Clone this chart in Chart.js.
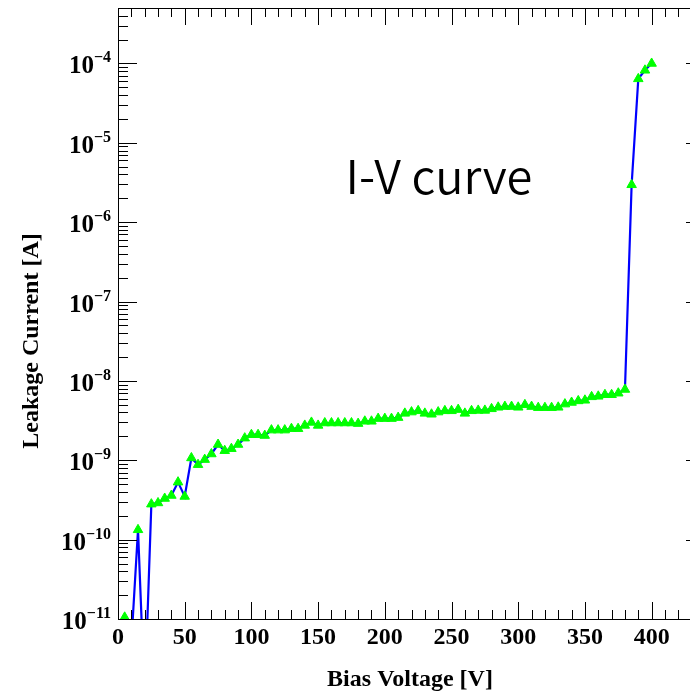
<!DOCTYPE html>
<html lang="en">
<head>
  <meta charset="UTF-8" />
  <title>I-V curve</title>
  <script src="https://cdn.jsdelivr.net/npm/chart.js"></script>
  <style>
    html, body { margin: 0; padding: 0; background: #fff; overflow: hidden; }
    #wrap { width: 690px; height: 692px; overflow: hidden; }
    #ivChart { display: block; }
  </style>
</head>
<body>
<div id="wrap"><canvas id="ivChart" width="705" height="692"></canvas></div>
<script>
  // bias voltage [V]
  const voltages = [
    5, 10, 15, 20, 25, 30, 35, 40, 45, 50,
    55, 60, 65, 70, 75, 80, 85, 90, 95, 100,
    105, 110, 115, 120, 125, 130, 135, 140, 145, 150,
    155, 160, 165, 170, 175, 180, 185, 190, 195, 200,
    205, 210, 215, 220, 225, 230, 235, 240, 245, 250,
    255, 260, 265, 270, 275, 280, 285, 290, 295, 300,
    305, 310, 315, 320, 325, 330, 335, 340, 345, 350,
    355, 360, 365, 370, 375, 380, 385, 390, 395, 400
  ];
  // leakage current [A]
  const currents = [
    1.05e-11, 5e-12, 1.33e-10, 1e-12, 2.8e-10, 2.9e-10, 3.3e-10, 3.6e-10, 5.3e-10, 3.5e-10,
    1.07e-9, 8.8e-10, 1.02e-9, 1.2e-9, 1.58e-9, 1.32e-9, 1.4e-9, 1.58e-9, 1.9e-9, 2.1e-9,
    2.1e-9, 2.05e-9, 2.4e-9, 2.4e-9, 2.4e-9, 2.5e-9, 2.5e-9, 2.75e-9, 3.0e-9, 2.75e-9,
    2.95e-9, 2.95e-9, 2.95e-9, 2.95e-9, 2.95e-9, 2.9e-9, 3.1e-9, 3.1e-9, 3.35e-9, 3.35e-9,
    3.35e-9, 3.45e-9, 3.9e-9, 4.05e-9, 4.2e-9, 3.9e-9, 3.8e-9, 4.05e-9, 4.2e-9, 4.2e-9,
    4.35e-9, 3.9e-9, 4.2e-9, 4.25e-9, 4.25e-9, 4.45e-9, 4.65e-9, 4.75e-9, 4.75e-9, 4.65e-9,
    5.0e-9, 4.75e-9, 4.6e-9, 4.6e-9, 4.6e-9, 4.65e-9, 5.1e-9, 5.35e-9, 5.6e-9, 5.7e-9,
    6.3e-9, 6.4e-9, 6.7e-9, 6.7e-9, 7.0e-9, 7.8e-9, 2.96e-6, 6.4e-5, 8.2e-5, 1.0e-4
  ];

  const xTickLabels = [0, 50, 100, 150, 200, 250, 300, 350, 400];
  const yTickExponents = [-11, -10, -9, -8, -7, -6, -5, -4];

  const X_MIN = 0, X_MAX = 440;
  const Y_MIN = 1e-11, Y_MAX = 5e-4;

  const points = voltages.map((v, i) => ({ x: v, y: currents[i] }));

  const serif = "'Liberation Serif', 'Times New Roman', serif";

  // ROOT-like frame: box, inward ticks on all four sides, labels and titles
  const rootFrame = {
    id: "rootFrame",
    afterDraw(chart) {
      const { ctx, chartArea: a, scales: { x, y } } = chart;
      ctx.save();
      ctx.strokeStyle = "#000";
      ctx.lineWidth = 1;
      ctx.strokeRect(a.left + 0.5, a.top + 0.5, a.right - a.left - 1, a.bottom - a.top);

      ctx.beginPath();
      for (let v = X_MIN; v <= X_MAX; v += 10) {
        const px = Math.round(x.getPixelForValue(v)) + 0.5;
        const len = v % 50 === 0 ? 17 : 9;
        ctx.moveTo(px, a.bottom);
        ctx.lineTo(px, a.bottom - len);
        ctx.moveTo(px, a.top);
        ctx.lineTo(px, a.top + len);
      }
      yTickExponents.forEach(e => {
        for (let m = 1; m <= 9; m++) {
          const val = m * Math.pow(10, e);
          if (val > Y_MAX) break;
          const py = Math.round(y.getPixelForValue(val)) + 0.5;
          const len = m === 1 ? 19 : 10;
          ctx.moveTo(a.left, py);
          ctx.lineTo(a.left + len, py);
          ctx.moveTo(a.right, py);
          ctx.lineTo(a.right - len, py);
        }
      });
      ctx.stroke();

      ctx.fillStyle = "#000";
      // x tick labels
      ctx.font = "bold 24px " + serif;
      ctx.textAlign = "center";
      ctx.textBaseline = "alphabetic";
      xTickLabels.forEach(v => {
        ctx.fillText(String(v), x.getPixelForValue(v), 644);
      });

      // y tick labels 10^n
      yTickExponents.forEach(e => {
        const py = y.getPixelForValue(Math.pow(10, e));
        const sup = "\u2212" + String(-e);
        ctx.font = "bold 16px " + serif;
        const supW = ctx.measureText(sup).width;
        ctx.textAlign = "left";
        const right = 111;
        ctx.fillText(sup, right - supW, py - 1);
        ctx.font = "bold 25px " + serif;
        ctx.textAlign = "right";
        ctx.fillText("10", right - supW, py + 10);
      });

      // axis titles
      ctx.font = "bold 24px " + serif;
      ctx.textAlign = "center";
      ctx.fillText("Bias Voltage [V]", 410, 686);
      ctx.save();
      ctx.translate(38, 341);
      ctx.rotate(-Math.PI / 2);
      ctx.fillText("Leakage Current [A]", 0, 0);
      ctx.restore();

      // annotation
      ctx.font = "350 47px 'Noto Sans CJK SC', 'Noto Sans', sans-serif";
      ctx.textAlign = "center";
      ctx.fillText("I-V curve", 439, 194);
      ctx.restore();
    }
  };

  const ctx = document.getElementById("ivChart").getContext("2d");
  new Chart(ctx, {
    type: "line",
    data: {
      datasets: [
        {
          label: "I-V",
          data: points,
          borderColor: "#0000ff",
          borderWidth: 2.2,
          tension: 0,
          fill: false,
          pointStyle: "triangle",
          pointRadius: 5.5,
          pointBackgroundColor: "#00ff00",
          pointBorderColor: "#00ff00",
          pointBorderWidth: 1
        }
      ]
    },
    options: {
      responsive: false,
      animation: false,
      devicePixelRatio: 1,
      layout: { autoPadding: false, padding: { top: 8, right: 0, left: 0, bottom: 0 } },
      plugins: { legend: { display: false }, tooltip: { enabled: false } },
      scales: {
        x: {
          type: "linear",
          min: X_MIN,
          max: X_MAX,
          grid: { display: false },
          border: { display: false },
          ticks: { display: false },
          afterFit: s => { s.height = 73; }
        },
        y: {
          type: "logarithmic",
          min: Y_MIN,
          max: Y_MAX,
          grid: { display: false },
          border: { display: false },
          ticks: { display: false },
          afterFit: s => { s.width = 118; }
        }
      }
    },
    plugins: [rootFrame]
  });
</script>
</body>
</html>
